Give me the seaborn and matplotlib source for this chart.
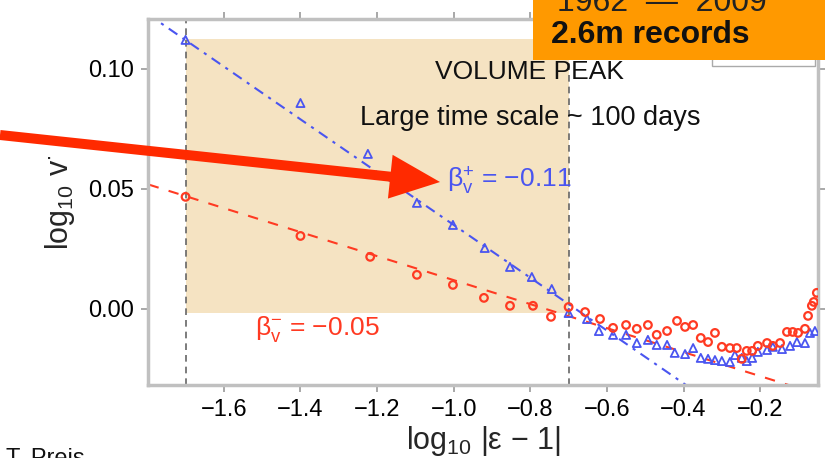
import numpy as np
import pandas as pd
import matplotlib
matplotlib.use("Agg")
import matplotlib.pyplot as plt
from matplotlib.patches import Rectangle, FancyArrow
from matplotlib.transforms import IdentityTransform
import seaborn as sns

# Renormalised volume around the peak, plus (blue) and minus (red) side
blue_x = [-1.70, -1.40, -1.224, -1.096, -1.002, -0.919, -0.853, -0.796, -0.744, -0.700,
          -0.652, -0.621, -0.584, -0.550, -0.522, -0.493, -0.470, -0.443, -0.423, -0.396,
          -0.375, -0.355, -0.336, -0.318, -0.300, -0.279, -0.266, -0.248, -0.235, -0.221,
          -0.206, -0.182, -0.167, -0.143, -0.122, -0.104, -0.083, -0.070, -0.057]
blue_y = [0.1121, 0.0858, 0.0646, 0.0442, 0.0350, 0.0254, 0.0175, 0.0133, 0.0083, -0.0017,
          -0.0042, -0.0092, -0.0108, -0.0108, -0.0142, -0.0129, -0.0150, -0.0150, -0.0183, -0.0188,
          -0.0163, -0.0204, -0.0208, -0.0213, -0.0217, -0.0221, -0.0192, -0.0204, -0.0217, -0.0204,
          -0.0179, -0.0171, -0.0158, -0.0167, -0.0154, -0.0138, -0.0142, -0.0100, -0.0092]

red_x = [-1.70, -1.40, -1.218, -1.096, -1.002, -0.921, -0.853, -0.793, -0.746, -0.700,
         -0.657, -0.618, -0.584, -0.550, -0.522, -0.493, -0.470, -0.443, -0.417, -0.396,
         -0.375, -0.355, -0.336, -0.318, -0.300, -0.279, -0.261, -0.248, -0.235, -0.221,
         -0.206, -0.182, -0.167, -0.148, -0.130, -0.115, -0.101, -0.083, -0.075, -0.065,
         -0.060, -0.052]
red_y = [0.0467, 0.0304, 0.0217, 0.0142, 0.0100, 0.0046, 0.0013, 0.0013, -0.0033, 0.0008,
         -0.0013, -0.0042, -0.0079, -0.0067, -0.0083, -0.0067, -0.0108, -0.0092, -0.0050, -0.0075,
         -0.0067, -0.0121, -0.0138, -0.0100, -0.0158, -0.0163, -0.0163, -0.0208, -0.0175, -0.0175,
         -0.0154, -0.0142, -0.0154, -0.0142, -0.0096, -0.0096, -0.0100, -0.0083, -0.0029, 0.0013,
         0.0029, 0.0067]

# Power-law fits in the large time scale window
beta_plus = -0.11
beta_minus = -0.05
anchor_x = -0.70
blue_anchor_y = 0.002
red_anchor_y = -0.003
fit_x = [-1.90, 0.0]

window = (-1.70, -0.70)
window_y = (-0.0017, 0.1125)

x_ticks = [-1.6, -1.4, -1.2, -1.0, -0.8, -0.6, -0.4, -0.2]
y_ticks = [0.00, 0.05, 0.10]

sns.set_theme(style="ticks")
plt.rcParams["font.family"] = ["Liberation Sans", "DejaVu Sans"]
plt.rcParams["mathtext.fontset"] = "custom"
plt.rcParams["mathtext.rm"] = "Liberation Sans"
plt.rcParams["mathtext.it"] = "Liberation Sans:italic"
plt.rcParams["mathtext.bf"] = "Liberation Sans:bold"

fig = plt.figure(figsize=(8.25, 4.58), dpi=100)
ax = fig.add_axes([148 / 825, 1 - 385 / 458, 670 / 825, 366 / 458])

blue = "#4a55f0"
red = "#ff3a22"

# shaded window
ax.fill_between(list(window), window_y[0], window_y[1], color="#f5e3c2", lw=0, zorder=0)
for xv in window:
    ax.axvline(xv, color="#666666", ls=(0, (4, 3)), lw=1.2, zorder=1)

fx = np.array(fit_x)
blue_fit = pd.DataFrame({"x": fx, "y": blue_anchor_y + beta_plus * (fx - anchor_x)})
red_fit = pd.DataFrame({"x": fx, "y": red_anchor_y + beta_minus * (fx - anchor_x)})
sns.lineplot(data=blue_fit, x="x", y="y", ax=ax, color=blue, lw=1.5,
             linestyle=(0, (5, 3, 1.5, 3)), zorder=2)
sns.lineplot(data=red_fit, x="x", y="y", ax=ax, color=red, lw=1.5,
             linestyle=(0, (5, 5)), zorder=2)

sns.scatterplot(x=blue_x, y=blue_y, ax=ax, marker="^", s=34, facecolor="none",
                edgecolor=blue, linewidth=1.3, zorder=3)
sns.scatterplot(x=red_x, y=red_y, ax=ax, marker="o", s=30, facecolor="none",
                edgecolor=red, linewidth=1.6, zorder=3)

ax.set_xlim(-1.798, -0.049)
ax.set_ylim(-0.0317, 0.1208)
ax.set_xticks(x_ticks)
ax.set_xticklabels([f"\u2212{abs(v):.1f}" for v in x_ticks])
ax.set_yticks(y_ticks)
ax.set_yticklabels([f"{v:.2f}" for v in y_ticks])
ax.tick_params(axis="both", direction="out", length=5, width=1.2, color="#999999",
               labelsize=17, labelcolor="black", pad=5)
ax.tick_params(top=True, right=True, labeltop=False, labelright=False)
for sp in ax.spines.values():
    sp.set_color("#c0c0c0")
    sp.set_linewidth(2.5)

ax.set_xlabel("log$_{10}$ |ε \u2212 1|", fontsize=22, labelpad=2)
ax.set_ylabel("log$_{10}$ v$^{\\bullet}$", fontsize=22, labelpad=8)

ax.text(-0.801, 0.0988, "VOLUME PEAK", ha="center", va="center", fontsize=19, color="#111111")
ax.text(-0.801, 0.0796, "Large time scale ~ 100 days", ha="center", va="center",
        fontsize=19.5, color="#111111")
ax.text(-1.018, 0.0535, "β$_{\\mathrm{v}}^{+}$ = \u22120.11", ha="left", va="center",
        fontsize=19, color=blue)
ax.text(-1.519, -0.0085, "β$_{\\mathrm{v}}^{-}$ = \u22120.05", ha="left", va="center",
        fontsize=19, color=red)

# legend box partly hidden under the date banner
fig.add_artist(Rectangle((712 / 825, 1 - 66 / 458), 103 / 825, 20 / 458,
                         transform=fig.transFigure, facecolor="white",
                         edgecolor="#aaaaaa", lw=1, zorder=5))
# date banner
fig.add_artist(Rectangle((533 / 825, 1 - 60 / 458), 292 / 825, 60 / 458,
                         transform=fig.transFigure, facecolor="#ff9900",
                         edgecolor="none", zorder=6))
fig.text(557 / 825, 1 - 11 / 458, "1962  \u2014  2009", fontsize=23, color="#222222",
         va="baseline", ha="left", zorder=7)
fig.text(551 / 825, 1 - 43 / 458, "2.6m records", fontsize=23, fontweight="bold",
         color="#111111", va="baseline", ha="left", zorder=7)

# pointer to the plus-side exponent
fig.add_artist(FancyArrow(0, 458 - 135, 440, -47, width=10, head_width=44, head_length=50,
                          length_includes_head=True, color="#ff2a00", lw=0,
                          transform=IdentityTransform(), zorder=8))

fig.text(6 / 825, 1 - 448 / 458, "T. Preis", fontsize=17, color="#111111",
         va="top", ha="left")

fig.savefig("out.png", dpi=100)
